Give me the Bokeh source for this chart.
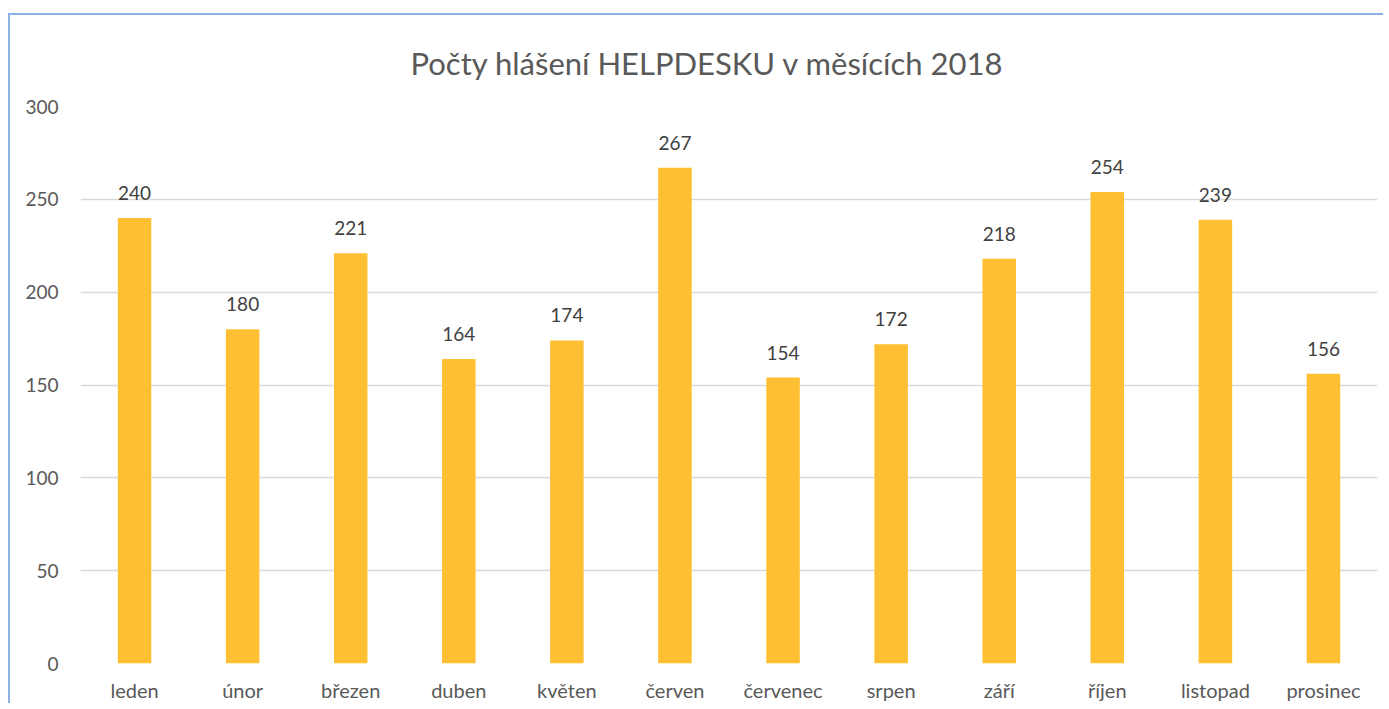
from bokeh.plotting import figure
from bokeh.models import ColumnDataSource, Range1d, FixedTicker
from bokeh.core.properties import value
from bokeh.embed import file_html
from bokeh.resources import INLINE

months = ["leden", "únor", "březen", "duben", "květen", "červen",
          "červenec", "srpen", "září", "říjen", "listopad", "prosinec"]
counts = [240, 180, 221, 164, 174, 267, 154, 172, 218, 254, 239, 156]
y_ticks = [0, 50, 100, 150, 200, 250, 300]
title_text = "Počty hlášení HELPDESKU v měsících 2018"

FONT = "Lato"
TXT = "#595959"

src = ColumnDataSource(dict(m=months, c=counts, lab=[str(v) for v in counts]))

p = figure(x_range=months, y_range=Range1d(0, 300), width=1375, height=690,
           output_backend="svg", toolbar_location=None,
           min_border_left=70, min_border_right=8, min_border_top=91, min_border_bottom=42,
           styles={"border-left": "2px solid #8DB3E2", "border-top": "2px solid #8DB3E2",
                   "margin-left": "8px", "margin-top": "13px"})

p.title.text = title_text
p.title.align = "left"
p.title.offset = 330
p.title.standoff = 50
p.title.vertical_align = "bottom"
p.title.text_font = FONT
p.title.text_font_size = "31px"
p.title.text_font_style = "normal"
p.title.text_color = TXT

p.vbar(x="m", top="c", width=0.31, source=src, fill_color="#FFBF33", line_color=None)
p.text(x="m", y="c", text="lab", source=src, text_align="center", text_baseline="bottom",
       y_offset=-18, text_font=value(FONT), text_font_size="19px", text_color="#404040")

p.outline_line_color = None
p.xgrid.grid_line_color = None
p.ygrid.grid_line_color = "#D9D9D9"
p.ygrid.grid_line_width = 1.5
p.yaxis.ticker = FixedTicker(ticks=y_ticks)

for ax in (p.xaxis, p.yaxis):
    ax.axis_line_color = None
    ax.major_tick_line_color = None
    ax.minor_tick_line_color = None
    ax.major_tick_out = 0
    ax.major_tick_in = 0
    ax.minor_tick_out = 0
    ax.major_label_text_font = FONT
    ax.major_label_text_color = TXT

p.yaxis.major_label_text_font_size = "19px"
p.xaxis.major_label_text_font_size = "20px"
p.yaxis.major_label_standoff = 22
p.xaxis.major_label_standoff = 14

open("out.html", "w").write(file_html(p, INLINE))
